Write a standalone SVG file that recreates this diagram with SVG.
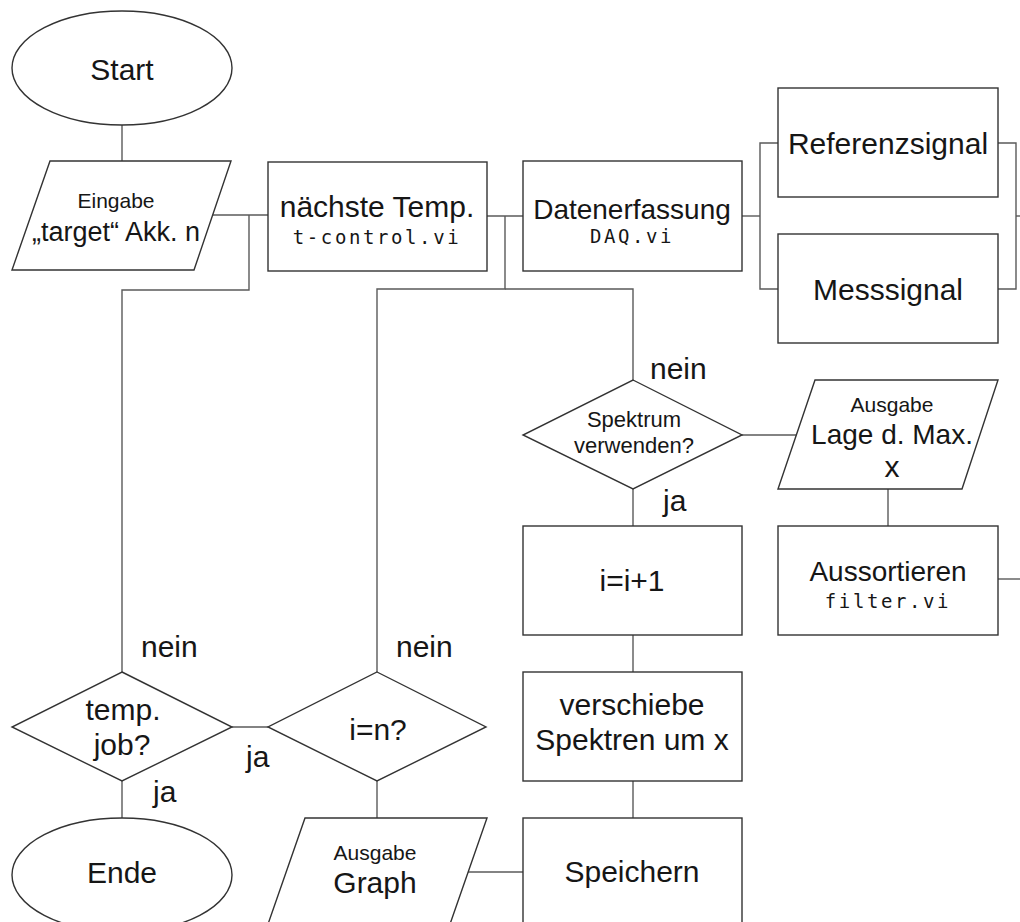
<svg xmlns="http://www.w3.org/2000/svg" width="1020" height="922" viewBox="0 0 1020 922">
  <style>
    .shape { fill: #ffffff; stroke: #333333; stroke-width: 1.4; }
    .wire { fill: none; stroke: #5a5a5a; stroke-width: 1.4; }
    text { font-family: "Liberation Sans", Arial, sans-serif; fill: #161616; }
    .big { font-size: 30px; text-anchor: middle; }
    .mid { font-size: 22px; text-anchor: middle; }
    .small { font-size: 21px; text-anchor: middle; }
    .mono { font-family: "DejaVu Sans Mono", "Liberation Mono", monospace; font-size: 19px; letter-spacing: 2.6px; text-anchor: middle; }
    .lbl { font-size: 30px; }
  </style>

  <!-- connectors -->
  <g id="connectors">
    <path class="wire" d="M122,125 V161"/>
    <path class="wire" d="M212,215 H268"/>
    <path class="wire" d="M249,215 V290 H122 V672"/>
    <path class="wire" d="M487,216 H523"/>
    <path class="wire" d="M505,216 V289 H377 V672"/>
    <path class="wire" d="M505,289 H633 V380"/>
    <path class="wire" d="M742,216 H760"/>
    <path class="wire" d="M778,143 H760 V289 H778"/>
    <path class="wire" d="M998,143 H1016 V289 H998"/>
    <path class="wire" d="M1016,216 H1020"/>
    <path class="wire" d="M742,435 H797"/>
    <path class="wire" d="M888,489 V526"/>
    <path class="wire" d="M998,579 H1020"/>
    <path class="wire" d="M633,489 V526"/>
    <path class="wire" d="M633,635 V672"/>
    <path class="wire" d="M633,781 V818"/>
    <path class="wire" d="M232,727 H268"/>
    <path class="wire" d="M122,781 V818"/>
    <path class="wire" d="M377,781 V818"/>
    <path class="wire" d="M468,872 H523"/>
  </g>

  <!-- branch labels -->
  <g id="labels">
    <text class="lbl" x="650" y="379">nein</text>
    <text class="lbl" x="663" y="511">ja</text>
    <text class="lbl" x="141" y="657">nein</text>
    <text class="lbl" x="396" y="657">nein</text>
    <text class="lbl" x="246" y="767">ja</text>
    <text class="lbl" x="153" y="802">ja</text>
  </g>

  <g id="start">
    <ellipse class="shape" cx="122" cy="68" rx="110" ry="57"/>
    <text class="big" x="122" y="80">Start</text>
  </g>

  <g id="eingabe">
    <polygon class="shape" points="50,161 231,161 194,270 12,270"/>
    <text class="small" x="116" y="208">Eingabe</text>
    <text x="116" y="241" style="font-size:27px; text-anchor:middle">„target“ Akk. n</text>
  </g>

  <g id="naechste-temp">
    <rect class="shape" x="268" y="162" width="219" height="109"/>
    <text class="big" x="377" y="217">nächste Temp.</text>
    <text class="mono" x="377" y="244">t-control.vi</text>
  </g>

  <g id="datenerfassung">
    <rect class="shape" x="523" y="161" width="219" height="110"/>
    <text class="big" x="632" y="219" style="font-size:28px">Datenerfassung</text>
    <text class="mono" x="632" y="243">DAQ.vi</text>
  </g>

  <g id="referenzsignal">
    <rect class="shape" x="778" y="88" width="220" height="109"/>
    <text class="big" x="888" y="154">Referenzsignal</text>
  </g>

  <g id="messsignal">
    <rect class="shape" x="778" y="234" width="220" height="109"/>
    <text class="big" x="888" y="300">Messsignal</text>
  </g>

  <g id="spektrum-verwenden">
    <polygon class="shape" points="633,380 742,435 633,489 523,435"/>
    <text class="mid" x="634" y="427">Spektrum</text>
    <text class="mid" x="634" y="453">verwenden?</text>
  </g>

  <g id="ausgabe-lage">
    <polygon class="shape" points="815,380 998,380 962,489 778,489"/>
    <text class="mid" x="892" y="412" style="font-size:21px">Ausgabe</text>
    <text class="big" x="892" y="444" style="font-size:28px">Lage d. Max.</text>
    <text class="big" x="892" y="477">x</text>
  </g>

  <g id="i-inc">
    <rect class="shape" x="523" y="526" width="219" height="109"/>
    <text class="big" x="632" y="591">i=i+1</text>
  </g>

  <g id="aussortieren">
    <rect class="shape" x="778" y="526" width="220" height="109"/>
    <text class="big" x="888" y="581" style="font-size:28px">Aussortieren</text>
    <text class="mono" x="888" y="608">filter.vi</text>
  </g>

  <g id="verschiebe">
    <rect class="shape" x="523" y="672" width="219" height="109"/>
    <text class="big" x="632" y="715">verschiebe</text>
    <text class="big" x="632" y="750">Spektren um x</text>
  </g>

  <g id="speichern">
    <rect class="shape" x="523" y="818" width="219" height="120"/>
    <text class="big" x="632" y="882">Speichern</text>
  </g>

  <g id="temp-job">
    <polygon class="shape" points="122,672 232,727 122,781 12,727"/>
    <text class="big" x="123" y="720">temp.</text>
    <text class="big" x="122" y="755">job?</text>
  </g>

  <g id="i-eq-n">
    <polygon class="shape" points="377,672 486,727 377,781 268,727"/>
    <text class="big" x="378" y="740">i=n?</text>
  </g>

  <g id="ende">
    <ellipse class="shape" cx="122" cy="875" rx="110" ry="57"/>
    <text class="big" x="122" y="883">Ende</text>
  </g>

  <g id="ausgabe-graph">
    <polygon class="shape" points="305,818 487,818 449,927 267,927"/>
    <text class="mid" x="375" y="860" style="font-size:21px">Ausgabe</text>
    <text class="big" x="375" y="893">Graph</text>
  </g>
</svg>
